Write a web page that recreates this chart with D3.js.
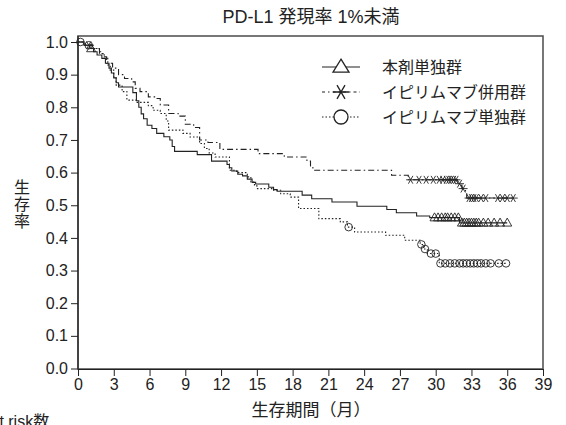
<!DOCTYPE html>
<html>
<head>
<meta charset="utf-8">
<script src="https://cdn.jsdelivr.net/npm/d3@7/dist/d3.min.js"></script>
<style>
  html, body { margin: 0; padding: 0; background: #fff; }
  svg { display: block; }
  text { font-family: "Liberation Sans", Arial, "Noto Sans CJK JP", sans-serif; fill: #222; }
</style>
</head>
<body>
<svg id="chart" width="566" height="425"></svg>
<script>
// Kaplan–Meier survival, PD-L1 < 1% subgroup
const title = "PD-L1 発現率 1%未満";
const xTicks = [0, 3, 6, 9, 12, 15, 18, 21, 24, 27, 30, 33, 36, 39];
const yTicks = [0, 0.1, 0.2, 0.3, 0.4, 0.5, 0.6, 0.7, 0.8, 0.9, 1.0];
const groupNames = ["本剤単独群", "イピリムマブ併用群", "イピリムマブ単独群"];

// 本剤単独群: event times (months) and survival after each event
const monoTimes = [0.5, 1.0, 1.3, 1.6, 2.0, 2.3, 2.6, 2.8, 3.0, 3.2, 3.4, 4.6, 4.9, 5.1, 5.3, 5.5, 5.8, 6.2, 6.6, 7.2, 7.7, 7.9, 8.1, 10.0, 11.2, 12.5, 12.7, 12.9, 13.4, 13.8, 14.2, 14.6, 14.9, 16.0, 16.4, 16.7, 18.8, 19.6, 21.3, 23.4, 25.9, 26.7, 28.4, 29.5, 32.0];
const monoSurv  = [0.99, 0.98, 0.97, 0.96, 0.95, 0.935, 0.92, 0.905, 0.89, 0.875, 0.862, 0.845, 0.82, 0.80, 0.78, 0.765, 0.745, 0.735, 0.72, 0.71, 0.70, 0.68, 0.665, 0.655, 0.635, 0.625, 0.615, 0.605, 0.595, 0.59, 0.58, 0.57, 0.565, 0.555, 0.548, 0.543, 0.531, 0.52, 0.51, 0.497, 0.487, 0.477, 0.467, 0.462, 0.446];
const monoCensor = [1.1, 29.9, 30.2, 30.5, 30.8, 31.0, 31.3, 31.6, 31.9, 32.2, 32.4, 32.6, 32.8, 33.0, 33.2, 33.4, 33.6, 34.0, 34.4, 34.9, 35.4, 36.0];

// イピリムマブ併用群
const comboTimes = [0.6, 1.2, 1.8, 2.1, 2.4, 2.9, 3.4, 3.9, 4.5, 4.8, 5.2, 5.9, 6.5, 6.9, 7.6, 8.4, 9.0, 9.7, 10.2, 10.9, 11.9, 15.1, 17.3, 19.2, 19.5, 19.7, 26.3, 27.7, 31.8, 32.2, 32.5, 32.6];
const comboSurv  = [0.99, 0.98, 0.97, 0.955, 0.935, 0.92, 0.90, 0.888, 0.878, 0.858, 0.848, 0.832, 0.827, 0.807, 0.781, 0.773, 0.748, 0.738, 0.70, 0.692, 0.671, 0.658, 0.648, 0.635, 0.62, 0.607, 0.592, 0.578, 0.566, 0.551, 0.538, 0.522];
const comboCensor = [0.9, 27.9, 28.6, 29.2, 29.8, 30.3, 30.6, 30.9, 31.1, 31.3, 31.5, 31.7, 32.0, 32.3, 32.8, 33.0, 33.2, 33.4, 33.8, 34.2, 35.2, 35.6, 36.0, 36.5];

// イピリムマブ単独群
const ipiTimes = [0.5, 1.3, 1.8, 2.2, 2.5, 2.7, 3.0, 3.2, 3.7, 4.1, 4.9, 5.9, 6.3, 6.9, 7.4, 7.6, 8.8, 9.4, 10.2, 10.6, 11.0, 11.5, 12.7, 13.3, 14.2, 14.5, 14.8, 15.0, 16.4, 17.0, 17.8, 18.5, 20.2, 22.0, 22.6, 23.2, 25.8, 27.4, 28.7, 29.0, 29.3, 30.3];
const ipiSurv  = [0.99, 0.98, 0.965, 0.95, 0.93, 0.914, 0.89, 0.868, 0.848, 0.822, 0.815, 0.805, 0.791, 0.781, 0.758, 0.730, 0.72, 0.709, 0.689, 0.674, 0.66, 0.648, 0.607, 0.60, 0.587, 0.571, 0.56, 0.551, 0.546, 0.535, 0.525, 0.49, 0.459, 0.449, 0.433, 0.418, 0.408, 0.393, 0.38, 0.366, 0.352, 0.322];
const ipiCensor = [0.2, 0.9, 22.7, 28.8, 29.1, 29.6, 30.0, 30.4, 30.8, 31.2, 31.6, 32.0, 32.3, 32.6, 32.9, 33.2, 33.5, 33.8, 34.2, 34.6, 35.3, 35.9];

const svg = d3.select("#chart");
const plot = { left: 78, right: 543, top: 36, bottom: 369 };

const x = d3.scaleLinear().domain([0, 39]).range([plot.left, plot.right]);
const y = d3.scaleLinear().domain([0, 1]).range([368.5, 42]);

// frame around the plotting area
svg.append("rect")
  .attr("x", plot.left).attr("y", plot.top)
  .attr("width", plot.right - plot.left).attr("height", plot.bottom - plot.top)
  .attr("fill", "none").attr("stroke", "#555").attr("stroke-width", 1.6);

// x axis with monthly minor ticks
const xAxisG = svg.append("g").attr("transform", `translate(0,${plot.bottom})`);
xAxisG.call(d3.axisBottom(x).tickValues(d3.range(0, 40, 1)).tickSize(5).tickFormat(""))
  .call(g => g.select(".domain").remove());
xAxisG.call(d3.axisBottom(x).tickValues(xTicks).tickSize(7).tickPadding(3).tickFormat(d3.format("d")))
  .call(g => g.select(".domain").attr("stroke", "#222"))
  .call(g => g.selectAll("text").attr("font-size", 16).attr("fill", "#222"));
xAxisG.selectAll("line").attr("stroke", "#222");

// y axis
const yAxisG = svg.append("g").attr("transform", `translate(${plot.left},0)`);
yAxisG.call(d3.axisLeft(y).tickValues(yTicks).tickSize(7).tickPadding(3).tickFormat(d3.format(".1f")))
  .call(g => g.select(".domain").remove())
  .call(g => g.selectAll("line").attr("stroke", "#222"))
  .call(g => g.selectAll("text").attr("font-size", 16).attr("fill", "#222"));
svg.append("line").attr("x1", plot.left).attr("x2", plot.left)
  .attr("y1", plot.top).attr("y2", plot.bottom).attr("stroke", "#222").attr("stroke-width", 1.2);

// titles
svg.append("text").attr("x", 311).attr("y", 23).attr("text-anchor", "middle")
  .attr("font-size", 18).text(title);
svg.append("text").attr("x", 311).attr("y", 416).attr("text-anchor", "middle")
  .attr("font-size", 17).text("生存期間（月）");
const yl = svg.append("text").attr("font-size", 16).attr("text-anchor", "middle");
["生", "存", "率"].forEach((c, i) => yl.append("tspan").attr("x", 22).attr("y", 193 + i * 17).text(c));
// number-at-risk heading, partly outside the left edge
svg.append("text").attr("x", -9.5).attr("y", 427).attr("font-size", 16).text("at risk数");

// survival lookup for censoring marks
function survAt(times, surv, t) {
  let s = 1;
  for (let i = 0; i < times.length; i++) if (times[i] <= t) s = surv[i];
  return s;
}

const asterisk = r => {
  let p = "";
  [0, 60, 120].forEach(a => {
    const dx = r * Math.cos(a * Math.PI / 180), dy = r * Math.sin(a * Math.PI / 180);
    p += `M${-dx},${-dy}L${dx},${dy}`;
  });
  return p;
};
const triangle = (w, h) => `M0,${-h * 0.6}L${w / 2},${h * 0.4}L${-w / 2},${h * 0.4}Z`;
const circle = r => `M${r},0A${r},${r} 0 1,1 ${-r},0A${r},${r} 0 1,1 ${r},0Z`;

const groups = [
  { times: monoTimes, surv: monoSurv, censor: monoCensor, dash: null, marker: () => triangle(9, 8) },
  { times: comboTimes, surv: comboSurv, censor: comboCensor, dash: "6,3,1.5,3", marker: () => asterisk(4.5) },
  { times: ipiTimes, surv: ipiSurv, censor: ipiCensor, dash: "1.5,2", marker: () => circle(3.8) }
];

const line = d3.line().x(d => x(d[0])).y(d => y(d[1])).curve(d3.curveStepAfter);

groups.forEach(g => {
  const end = d3.max(g.censor.concat(g.times));
  const pts = [[0, 1]].concat(g.times.map((t, i) => [t, g.surv[i]]));
  pts.push([end, g.surv[g.surv.length - 1]]);
  svg.append("path").attr("d", line(pts)).attr("fill", "none")
    .attr("stroke", "#222").attr("stroke-width", 1.1)
    .attr("stroke-dasharray", g.dash);
  svg.append("g").selectAll("path").data(g.censor).join("path")
    .attr("transform", t => `translate(${x(t)},${y(survAt(g.times, g.surv, t))})`)
    .attr("d", g.marker()).attr("fill", "none").attr("stroke", "#222").attr("stroke-width", 0.9);
});

// legend
const legendMarkers = [() => triangle(16, 13), () => asterisk(8), () => circle(7)];
const legendDash = [null, "3,3,1.5,3", "1.5,2"];
groupNames.forEach((name, i) => {
  const ly = 67 + i * 25;
  svg.append("line").attr("x1", 322).attr("x2", 360).attr("y1", ly).attr("y2", ly)
    .attr("stroke", "#222").attr("stroke-width", 1.1).attr("stroke-dasharray", legendDash[i]);
  svg.append("path").attr("transform", `translate(341,${ly})`).attr("d", legendMarkers[i]())
    .attr("fill", i === 1 ? "none" : "#fff").attr("stroke", "#222").attr("stroke-width", 1.3);
  svg.append("text").attr("x", 382).attr("y", ly + 6).attr("font-size", 16).text(name);
});
</script>
</body>
</html>
